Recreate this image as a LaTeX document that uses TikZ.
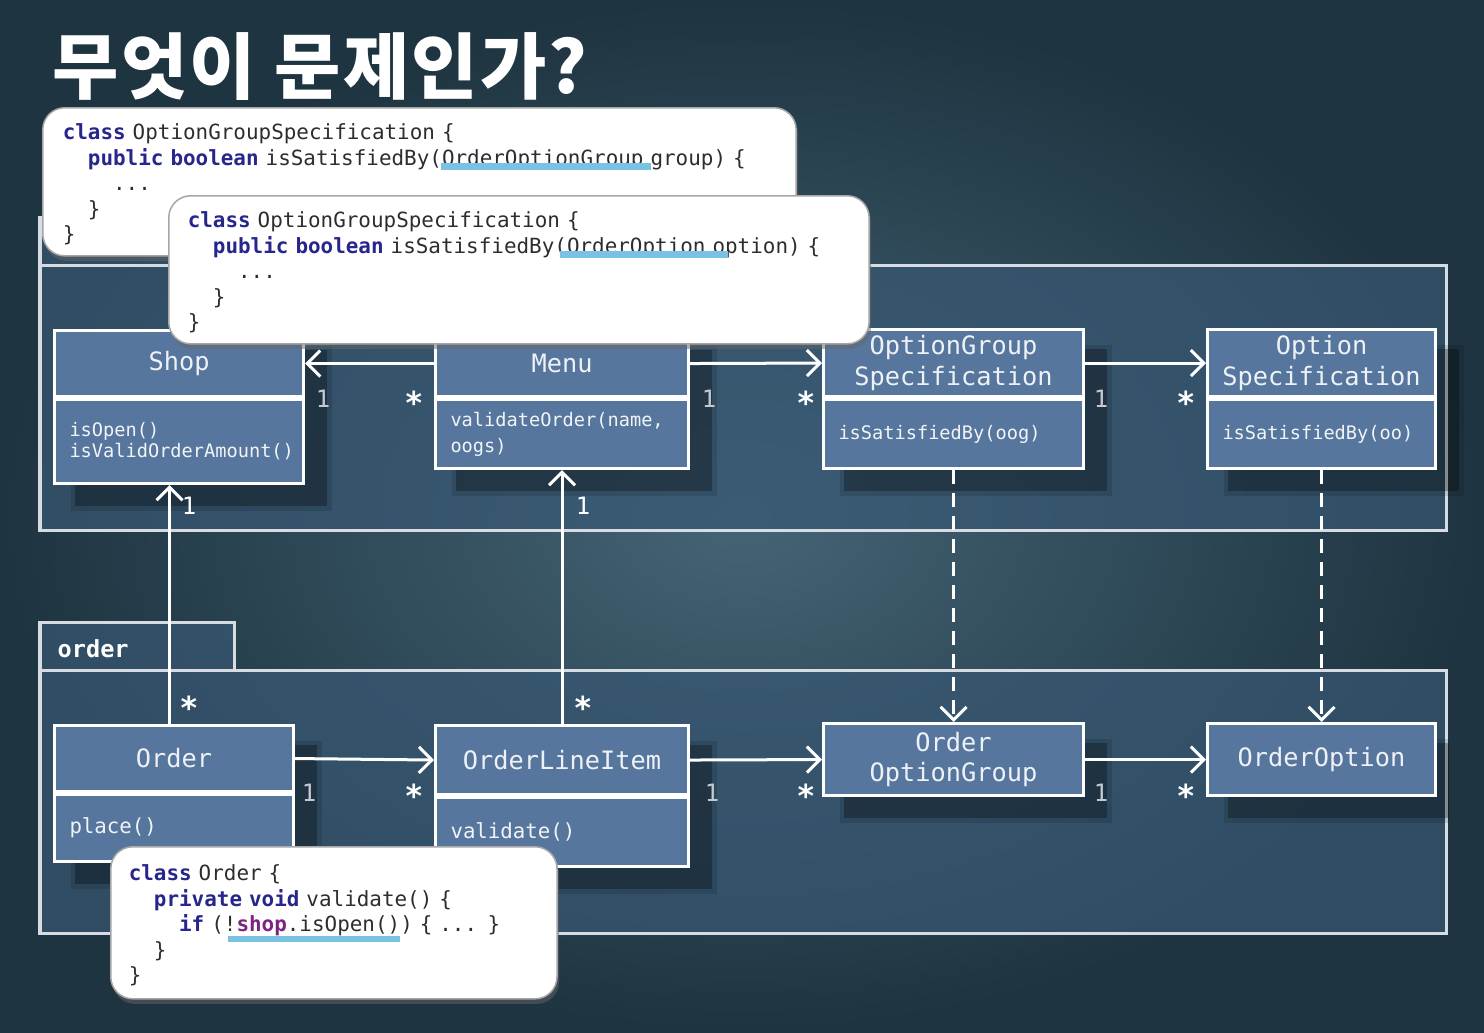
\documentclass[tikz,border=0pt]{standalone}
\usepackage{fontspec}
\setmonofont{DejaVu Sans Mono}
\newfontfamily\krfont[LetterSpace=3]{Noto Sans CJK KR}
\usetikzlibrary{arrows.meta,shadows}

\definecolor{bgmid}{RGB}{68,100,118}
\definecolor{bgdark}{RGB}{30,52,64}
\definecolor{pkgfill}{RGB}{56,88,116}
\definecolor{pkgline}{RGB}{214,220,226}
\definecolor{clsfill}{RGB}{86,118,158}
\definecolor{codetext}{RGB}{45,45,45}
\definecolor{kwblue}{RGB}{38,38,140}
\definecolor{fieldpurple}{RGB}{125,35,130}
\definecolor{hlblue}{RGB}{122,194,228}
\definecolor{dimwhite}{RGB}{196,202,208}

\newcommand{\kw}[1]{{\bfseries\color{kwblue}#1}}
\newcommand{\ind}{\phantom{xx}}
\newcommand{\topstrut}{\rule{0pt}{6pt}}

\pgfdeclarelayer{back}
\pgfdeclarelayer{shade}
\pgfsetlayers{back,shade,main}

\tikzset{
    clshead/.style={draw=white, line width=0.03cm, fill=clsfill, text=white!90!clsfill,
        font=\fontsize{7.2}{8.8}\selectfont\ttfamily, align=center, inner sep=0pt, anchor=north west},
    clsbody/.style={draw=white, line width=0.03cm, fill=clsfill, text=white!92!clsfill,
        font=\fontsize{5.3}{6}\selectfont\ttfamily, align=left, inner xsep=0.15cm, inner ysep=0pt, anchor=north},
    clsshadow/.style={fill=black, opacity=0.28},
    clsblur/.style={fill=black, opacity=0.12},
    assoc/.style={draw=white, line width=0.03cm, ->},
    realize/.style={assoc, dash pattern=on 0.14cm off 0.09cm},
    mone/.style={text=dimwhite, font=\fontsize{6.8}{7}\selectfont\ttfamily, inner sep=0pt},
    mmany/.style={text=white, font=\fontsize{9}{9}\selectfont\ttfamily\bfseries, inner sep=0pt},
    pkg/.style={draw=pkgline, line width=0.03cm, fill=pkgfill, fill opacity=0.7},
    pkgname/.style={text=white, font=\fontsize{6.7}{7}\selectfont\ttfamily\bfseries, anchor=west, inner sep=0pt},
    codebox/.style={draw=black!35, line width=0.015cm, fill=white, rounded corners=0.22cm, text=codetext,
        align=left, anchor=north west, inner ysep=0pt, font=\fontsize{5.95}{7.25}\selectfont\ttfamily,
        drop shadow={shadow xshift=0.02cm, shadow yshift=-0.05cm, opacity=0.5, fill=black!60}},
    hl/.style={fill=hlblue}
}

\begin{document}
\begin{tikzpicture}[x=0.01cm, y=-0.01cm, >={Straight Barb[length=0.13cm,width=0.26cm]}]
        \useasboundingbox (0,0) rectangle (1484,1032);
        \begin{pgfonlayer}{back}
        \fill[bgdark] (0,0) rectangle (1484,1032);
        \shade[inner color=bgmid, outer color=bgdark] (0,0) rectangle (1484,1032);
        \draw[pkg] (40,217) rectangle (170,265);
        \draw[pkg] (40,265) rectangle (1446,530);
        \draw[pkg] (40,622) rectangle (234,670);
        \draw[pkg] (40,670) rectangle (1446,933);
        \end{pgfonlayer}
        \node[pkgname] (orderPkg) at (57,649) {order};

        \node[clshead, minimum width=2.49cm, minimum height=0.66cm] (shopH) at (53,329) {Shop};
        \node[clsbody, text width=2.19cm, minimum height=0.84cm] (shopB) at (shopH.south) {isOpen()\\isValidOrderAmount()};
        \node[clshead, minimum width=2.53cm, minimum height=0.66cm] (menuH) at (434,329) {Menu};
        \node[clsbody, text width=2.23cm, minimum height=0.69cm, font=\fontsize{5.3}{7.4}\selectfont\ttfamily] (menuB) at (menuH.south) {validateOrder(name,\\oogs)};
        \node[clshead, minimum width=2.60cm, minimum height=0.67cm] (ogsH) at (822,328) {OptionGroup\\Specification};
        \node[clsbody, text width=2.30cm, minimum height=0.69cm] (ogsB) at (ogsH.south) {isSatisfiedBy(oog)};
        \node[clshead, minimum width=2.28cm, minimum height=0.67cm] (osH) at (1206,328) {Option\\Specification};
        \node[clsbody, text width=1.98cm, minimum height=0.69cm] (osB) at (osH.south) {isSatisfiedBy(oo)};

        \node[clshead, minimum width=2.39cm, minimum height=0.66cm] (orderH) at (53,724) {Order};
        \node[clsbody, text width=2.09cm, minimum height=0.67cm, font=\fontsize{5.9}{7}\selectfont\ttfamily] (orderB) at (orderH.south) {place()};
        \node[clshead, minimum width=2.53cm, minimum height=0.69cm] (oliH) at (434,724) {OrderLineItem};
        \node[clsbody, text width=2.23cm, minimum height=0.69cm, font=\fontsize{5.9}{7}\selectfont\ttfamily] (oliB) at (oliH.south) {validate()};
        \node[clshead, minimum width=2.60cm, minimum height=0.72cm] (oogH) at (822,722) {Order\\OptionGroup};
        \node[clshead, minimum width=2.28cm, minimum height=0.72cm] (ooH) at (1206,722) {OrderOption};

        \begin{pgfonlayer}{shade}
        \fill[clsshadow] ([shift={(22,21)}]shopH.north west) rectangle ([shift={(22,21)}]shopB.south east);
        \fill[clsshadow] ([shift={(22,21)}]menuH.north west) rectangle ([shift={(22,21)}]menuB.south east);
        \fill[clsshadow] ([shift={(22,21)}]ogsH.north west) rectangle ([shift={(22,21)}]ogsB.south east);
        \fill[clsshadow] ([shift={(22,21)}]osH.north west) rectangle ([shift={(22,21)}]osB.south east);
        \fill[clsshadow] ([shift={(22,21)}]orderH.north west) rectangle ([shift={(22,21)}]orderB.south east);
        \fill[clsshadow] ([shift={(22,21)}]oliH.north west) rectangle ([shift={(22,21)}]oliB.south east);
        \fill[clsshadow] ([shift={(22,21)}]oogH.north west) rectangle ([shift={(22,21)}]oogH.south east);
        \fill[clsshadow] ([shift={(22,21)}]ooH.north west) rectangle ([shift={(12,21)}]ooH.south east);
        \fill[clsblur] ([shift={(18,17)}]shopH.north west) rectangle ([shift={(27,26)}]shopB.south east);
        \fill[clsblur] ([shift={(18,17)}]menuH.north west) rectangle ([shift={(27,26)}]menuB.south east);
        \fill[clsblur] ([shift={(18,17)}]ogsH.north west) rectangle ([shift={(27,26)}]ogsB.south east);
        \fill[clsblur] ([shift={(18,17)}]osH.north west) rectangle ([shift={(27,26)}]osB.south east);
        \fill[clsblur] ([shift={(18,17)}]orderH.north west) rectangle ([shift={(27,26)}]orderB.south east);
        \fill[clsblur] ([shift={(18,17)}]oliH.north west) rectangle ([shift={(27,26)}]oliB.south east);
        \fill[clsblur] ([shift={(18,17)}]oogH.north west) rectangle ([shift={(27,26)}]oogH.south east);
        \fill[clsblur] ([shift={(18,17)}]ooH.north west) rectangle ([shift={(12,26)}]ooH.south east);
        \end{pgfonlayer}

        \draw[assoc] (menuH.west) -- (shopH.east);
        \draw[assoc] (menuH.east) -- (ogsH.west);
        \draw[assoc] (ogsH.east) -- (osH.west);
        \draw[assoc] ([xshift=-0.045cm]orderH.north) -- ([xshift=-0.045cm]orderH.north |- shopB.south);
        \draw[assoc] (oliH.north) -- (menuB.south);
        \draw[assoc] (orderH.east) -- (oliH.west);
        \draw[assoc] (oliH.east) -- (oogH.west);
        \draw[assoc] (oogH.east) -- (ooH.west);
        \draw[realize] (ogsB.south) -- (oogH.north);
        \draw[realize] (osB.south) -- (ooH.north);

        \node[mone] (m1a) at (323,399) {1};
        \node[mmany] (m1b) at (414,403) {*};
        \node[mone] (m2a) at (709,399) {1};
        \node[mmany] (m2b) at (806,403) {*};
        \node[mone] (m3a) at (1101,399) {1};
        \node[mmany] (m3b) at (1186,403) {*};
        \node[mone, text=white] (m4a) at (189,506) {1};
        \node[mmany] (m4b) at (189,708) {*};
        \node[mone, text=white] (m5a) at (583,506) {1};
        \node[mmany] (m5b) at (583,708) {*};
        \node[mone] (m6a) at (309,793) {1};
        \node[mmany] (m6b) at (414,796) {*};
        \node[mone] (m7a) at (712,793) {1};
        \node[mmany] (m7b) at (806,796) {*};
        \node[mone] (m8a) at (1101,793) {1};
        \node[mmany] (m8b) at (1186,796) {*};

        \node[codebox, minimum width=7.53cm, minimum height=1.48cm, text width=7.13cm, inner xsep=0.2cm] (code1) at (42,107) {%
            \topstrut\kw{class} OptionGroupSpecification \{\\
            \ind\kw{public} \kw{boolean} isSatisfiedBy(OrderOptionGroup group) \{\\
            \ind\ind...\\
            \ind\}\\
            \}};
        \fill[hl] (441,163) rectangle (651,170);
        \node[codebox, minimum width=7.00cm, minimum height=1.48cm, text width=6.62cm, inner xsep=0.19cm] (code2) at (168,195) {%
            \topstrut\kw{class} OptionGroupSpecification \{\\
            \ind\kw{public} \kw{boolean} isSatisfiedBy(OrderOption option) \{\\
            \ind\ind...\\
            \ind\}\\
            \}};
        \fill[hl] (560,251) rectangle (728,258);
        \node[codebox, minimum width=4.46cm, minimum height=1.52cm, text width=4.10cm, inner xsep=0.18cm] (code3) at (110,846) {%
            \topstrut\kw{class} Order \{\\
            \ind\kw{private} \kw{void} validate() \{\\
            \ind\ind\kw{if} (!{\bfseries\color{fieldpurple}shop}.isOpen()) \{ ... \}\\
            \ind\}\\
            \}};
        \fill[hl] (228,936) rectangle (400,942);

        \node[anchor=west, inner sep=0pt, text=white, font=\krfont\bfseries\fontsize{20.5}{20.5}\selectfont] (title) at (52,67) {무엇이 문제인가?};
    \end{tikzpicture}
\end{document}
